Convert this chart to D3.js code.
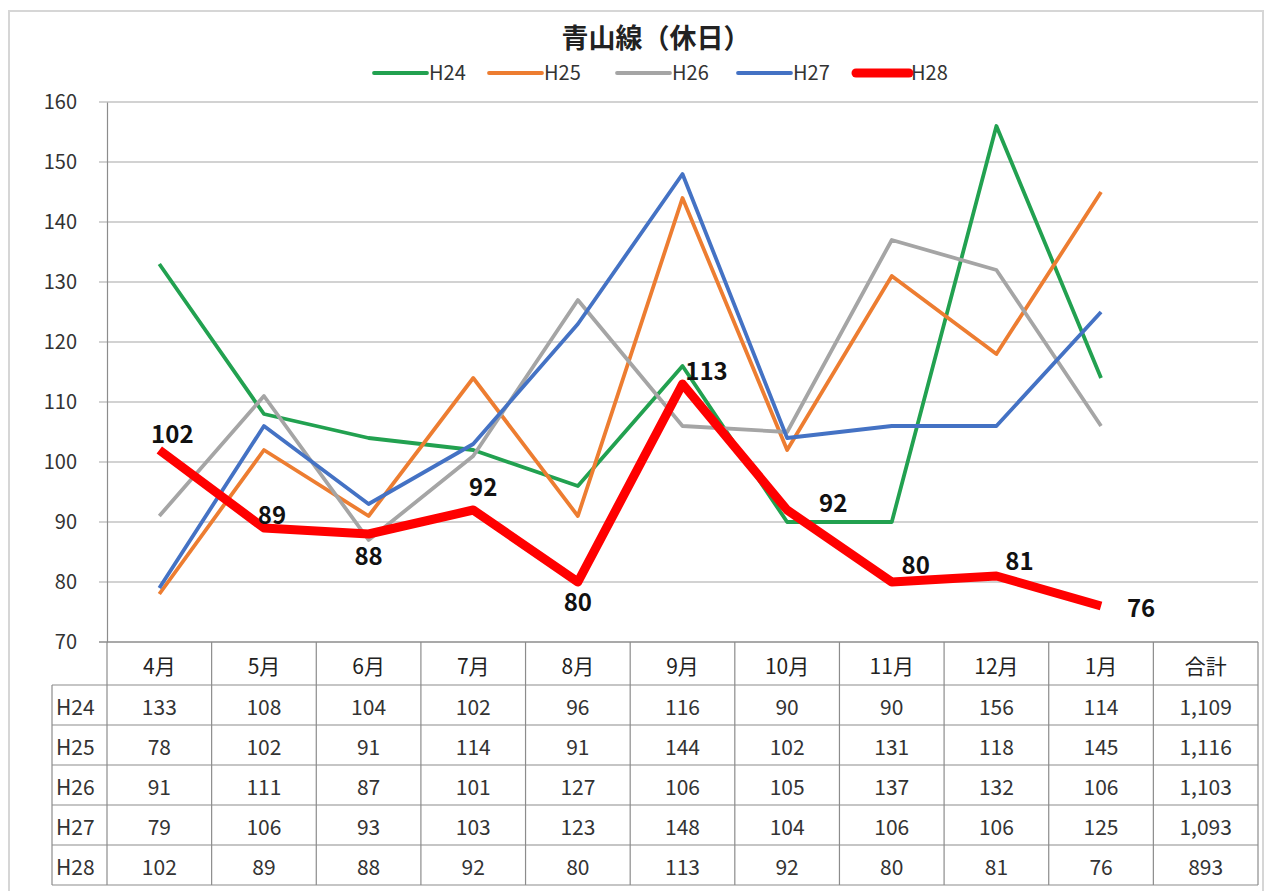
<!DOCTYPE html>
<html>
<head>
<meta charset="utf-8">
<script src="https://cdn.jsdelivr.net/npm/d3@7"></script>
<style>
  body { margin: 0; background: #fff; }
  text { font-family: "Noto Sans CJK JP", "Noto Sans", sans-serif; }
</style>
</head>
<body>
<div id="chart"></div>
<script>
  // data
  var months = ["4月", "5月", "6月", "7月", "8月", "9月", "10月", "11月", "12月", "1月"]
  var seriesNames = ["H24", "H25", "H26", "H27", "H28"]
  var h24 = [133, 108, 104, 102, 96, 116, 90, 90, 156, 114]
  var h25 = [78, 102, 91, 114, 91, 144, 102, 131, 118, 145]
  var h26 = [91, 111, 87, 101, 127, 106, 105, 137, 132, 106]
  var h27 = [79, 106, 93, 103, 123, 148, 104, 106, 106, 125]
  var h28 = [102, 89, 88, 92, 80, 113, 92, 80, 81, 76]
  var totalLabel = "合計"
  var yTicks = [70, 80, 90, 100, 110, 120, 130, 140, 150, 160]

  var width = 1275
  var height = 891

  var colors = ["#22a150", "#ed7d31", "#a5a5a5", "#4472c4", "#ff0000"]
  var strokeW = [3.8, 3.8, 3.8, 3.8, 9]
  // where each H28 label sits relative to its point
  var labelOffsets = [[13, -18], [8, -15], [0, 20], [10, -25], [0, 18], [24, -15], [46, -9], [24, -19], [23, -17], [40, 0]]

  var allSeries = [h24, h25, h26, h27, h28]

  var svg = d3.select("#chart")
    .append("svg")
    .attr("width", width)
    .attr("height", height)

  // outer frame
  svg.append("rect")
    .attr("x", 9).attr("y", 11)
    .attr("width", 1254).attr("height", 910)
    .attr("fill", "none")
    .attr("stroke", "#d6d6d6")
    .attr("stroke-width", 2)

  var plotLeft = 107, plotRight = 1258, plotTop = 102, plotBottom = 642

  var x = d3.scaleBand()
    .domain(months.concat([totalLabel]))
    .range([plotLeft, plotRight])
    .padding(0)

  var y = d3.scaleLinear()
    .domain([70, 160])
    .range([plotBottom, plotTop])

  var cx = function (m) { return x(m) + x.bandwidth() / 2 }

  // title
  svg.append("text")
    .attr("x", 656).attr("y", 48)
    .attr("text-anchor", "middle")
    .style("font-size", "27px")
    .style("font-weight", "bold")
    .attr("fill", "#222")
    .text("青山線（休日）")

  // legend
  var legendX = [374, 489, 617, 738, 856]
  var legend = svg.append("g")
    .selectAll("g")
    .data(seriesNames)
    .enter()
    .append("g")
    .attr("transform", function (d, i) { return "translate(" + legendX[i] + ",73)" })
  legend.append("line")
    .attr("x1", 0).attr("x2", 53)
    .attr("stroke", function (d, i) { return colors[i] })
    .attr("stroke-width", function (d, i) { return i == 4 ? 9 : 3.8 })
    .attr("stroke-linecap", "round")
  legend.append("text")
    .attr("x", 55).attr("y", 7)
    .style("font-size", "20px")
    .attr("fill", "#333")
    .text(function (d) { return d })

  // gridlines
  svg.append("g")
    .selectAll("line")
    .data(yTicks)
    .enter()
    .append("line")
    .attr("x1", plotLeft - 8).attr("x2", plotRight)
    .attr("y1", function (d) { return y(d) })
    .attr("y2", function (d) { return y(d) })
    .attr("stroke", function (d) { return d == 70 ? "#8c8c8c" : "#a6a6a6" })
    .attr("stroke-width", function (d) { return d == 70 ? 1.5 : 1.2 })

  // y axis
  var yAxis = svg.append("g")
    .attr("transform", "translate(" + plotLeft + ",0)")
    .call(d3.axisLeft(y).tickValues(yTicks).tickSize(0).tickPadding(30))
  yAxis.select(".domain").attr("stroke", "#8c8c8c").attr("stroke-width", 1.2)
  yAxis.selectAll("text")
    .style("font-size", "20px")
    .attr("fill", "#333")
    .attr("font-family", "Noto Sans, sans-serif")

  // lines
  var line = d3.line()
    .x(function (d, i) { return cx(months[i]) })
    .y(function (d) { return y(d) })

  svg.append("g")
    .selectAll("path")
    .data(allSeries)
    .enter()
    .append("path")
    .attr("d", line)
    .attr("fill", "none")
    .attr("stroke", function (d, i) { return colors[i] })
    .attr("stroke-width", function (d, i) { return strokeW[i] })
    .attr("stroke-linejoin", "round")

  // H28 labels
  svg.append("g")
    .selectAll("text")
    .data(h28)
    .enter()
    .append("text")
    .attr("x", function (d, i) { return cx(months[i]) + labelOffsets[i][0] })
    .attr("y", function (d, i) { return y(d) + labelOffsets[i][1] })
    .attr("text-anchor", "middle")
    .attr("dominant-baseline", "central")
    .attr("font-family", "Noto Sans, sans-serif")
    .style("font-size", "24px")
    .style("font-weight", "bold")
    .attr("fill", "#111")
    .text(function (d) { return d })

  // data table
  var rowH = 40, headTop = plotBottom, headH = 43, labelLeft = 52
  var table = svg.append("g")
  var cols = months.concat([totalLabel])
  var fmt = d3.format(",")

  // header
  table.selectAll(".head")
    .data(cols)
    .enter()
    .append("text")
    .attr("class", "head")
    .attr("x", function (d) { return x(d) + x.bandwidth() / 2 })
    .attr("y", headTop + headH / 2 + 1)
    .attr("text-anchor", "middle")
    .attr("dominant-baseline", "central")
    .style("font-size", "21px")
    .attr("fill", "#222")
    .text(function (d) { return d })

  var rowTop = headTop + headH
  allSeries.forEach(function (s, r) {
    var vals = s.map(function (v) { return fmt(v) }).concat([fmt(d3.sum(s))])
    var yy = rowTop + r * rowH + rowH / 2 + 1
    table.append("text")
      .attr("x", labelLeft + 4).attr("y", yy)
      .attr("dominant-baseline", "central")
      .style("font-size", "21px")
      .attr("fill", "#333")
      .text(seriesNames[r])
    table.selectAll(".r" + r)
      .data(vals)
      .enter()
      .append("text")
      .attr("x", function (d, i) { return x(cols[i]) + x.bandwidth() / 2 })
      .attr("y", yy)
      .attr("text-anchor", "middle")
      .attr("dominant-baseline", "central")
      .style("font-size", "21px")
      .attr("fill", "#333")
      .text(function (d) { return d })
  })

  var tableBottom = rowTop + rowH * allSeries.length
  // vertical lines
  var vx = cols.map(function (c) { return x(c) }).concat([plotRight])
  table.selectAll(".vl")
    .data(vx)
    .enter()
    .append("line")
    .attr("x1", function (d) { return d }).attr("x2", function (d) { return d })
    .attr("y1", headTop).attr("y2", tableBottom)
    .attr("stroke", "#8c8c8c").attr("stroke-width", 1.2)
  table.append("line")
    .attr("x1", labelLeft).attr("x2", labelLeft)
    .attr("y1", rowTop).attr("y2", tableBottom)
    .attr("stroke", "#8c8c8c").attr("stroke-width", 1.2)
  // horizontal lines
  table.selectAll(".hl")
    .data(d3.range(allSeries.length + 1))
    .enter()
    .append("line")
    .attr("x1", labelLeft).attr("x2", plotRight)
    .attr("y1", function (d) { return rowTop + d * rowH })
    .attr("y2", function (d) { return rowTop + d * rowH })
    .attr("stroke", "#8c8c8c").attr("stroke-width", 1.2)
</script>
</body>
</html>
